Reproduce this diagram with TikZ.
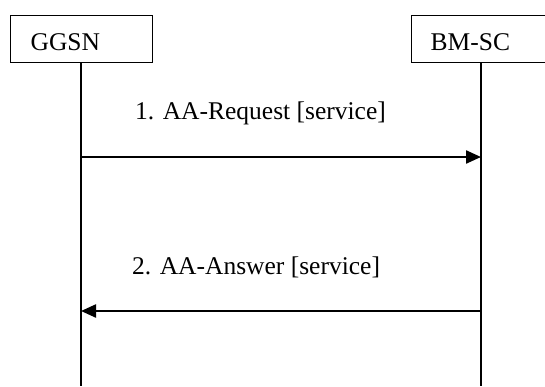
\documentclass[tikz,border=0pt]{standalone}
\usepackage{fontspec}
\setmainfont{Liberation Serif}
\usetikzlibrary{arrows.meta}
\begin{document}
\begin{tikzpicture}[x=1pt,y=-1pt,
  every node/.style={font=\fontsize{25.5}{30}\selectfont},
  entity/.style={draw, line width=1.3pt, anchor=north west, minimum height=47pt,
    inner ysep=0pt, text height=23pt, text depth=0pt, align=left},
  lifeline/.style={line width=1.3pt},
  msg/.style={line width=2.3pt, -{Triangle[length=15pt,width=13pt]}},
  msglabel/.style={anchor=base west, inner sep=0pt}]
\useasboundingbox (0,0) rectangle (545,386);
\node[entity, minimum width=142pt, inner xsep=20pt, text width=102pt] (ggsn) at (10,15) {GGSN};
\node[entity, minimum width=142pt, inner xsep=19pt, text width=104pt] (bmsc) at (411,15) {BM-SC};
\coordinate (ggsnEnd) at (81,386);
\coordinate (bmscEnd) at (481,386);
\draw[lifeline] (ggsn.south -| ggsnEnd) -- (ggsnEnd);
\draw[lifeline] (bmsc.south -| bmscEnd) -- (bmscEnd);
\coordinate (m1s) at (81,157);
\coordinate (m1e) at (481,157);
\coordinate (m2s) at (481,311);
\coordinate (m2e) at (81,311);
\draw[msg] (m1s) -- (m1e);
\draw[msg] (m2s) -- (m2e);
\node[msglabel] (l1) at (135,119) {1. AA-Request [service]};
\node[msglabel] (l2) at (132,274) {2. AA-Answer [service]};
\end{tikzpicture}
\end{document}
